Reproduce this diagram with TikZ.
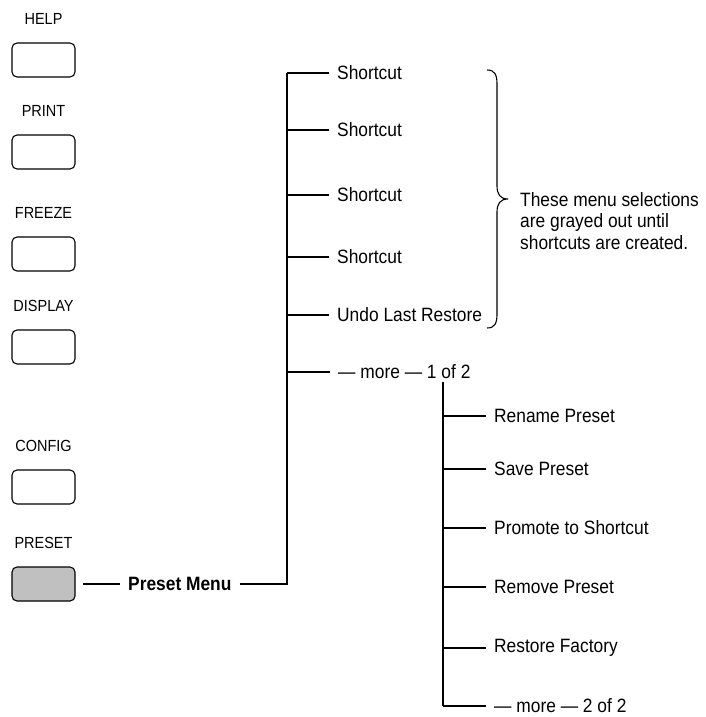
\documentclass[tikz,border=0pt]{standalone}
\usepackage{fontspec}
\setmainfont{Liberation Sans}[FakeStretch=0.9]
\definecolor{btngray}{RGB}{192,192,192}
\tikzset{
  btn/.style={draw, line width=1.1pt, rounded corners=5pt, minimum width=63pt, minimum height=34pt, inner sep=0pt},
  btnlabel/.style={font=\fontsize{16.1}{18}\selectfont, inner sep=0pt},
  item/.style={anchor=west, inner xsep=8pt, inner ysep=2pt, font=\fontsize{19.3}{21}\selectfont},
  bolditem/.style={item, font=\fontsize{19.3}{21}\selectfont\bfseries},
  link/.style={line width=1.2pt},
  bracestyle/.style={line width=1.1pt},
}
\begin{document}
\begin{tikzpicture}[x=1pt,y=-1pt]
\useasboundingbox (0,0) rectangle (705,717);
% buttons and labels
\node[btnlabel] (lhelp) at (43.5,19) {HELP};
\node[btn] (bhelp) at (43.5,60) {};
\node[btnlabel] (lprint) at (43.5,111) {PRINT};
\node[btn] (bprint) at (43.5,152) {};
\node[btnlabel] (lfreeze) at (43.5,213) {FREEZE};
\node[btn] (bfreeze) at (43.5,254) {};
\node[btnlabel] (ldisplay) at (43.5,306) {DISPLAY};
\node[btn] (bdisplay) at (43.5,347) {};
\node[btnlabel] (lconfig) at (43.5,446) {CONFIG};
\node[btn] (bconfig) at (43.5,487) {};
\node[btnlabel] (lpreset) at (43.5,543) {PRESET};
\node[btn, fill=btngray] (bpreset) at (43.5,584) {};
% preset menu
\node[bolditem] (pm) at (120,584) {Preset Menu};
\coordinate (pmstart) at (83,584);
\draw[link] (pmstart) -- (pm.west);
% main tree
\coordinate (v1) at (287,73);
\coordinate (v2) at (287,130);
\coordinate (v3) at (287,195);
\coordinate (v4) at (287,257);
\coordinate (v5) at (287,315);
\coordinate (v6) at (287,372);
\coordinate (v7) at (287,584);
\draw[link] (pm.east) -- (v7) -- (v1);
\node[item] (s1) at (329,73) {Shortcut};
\node[item] (s2) at (329,130) {Shortcut};
\node[item] (s3) at (329,195) {Shortcut};
\node[item] (s4) at (329,257) {Shortcut};
\node[item] (s5) at (329,315) {Undo Last Restore};
\node[item] (m1) at (330,372) {— more — 1 of 2};
\foreach \a/\b in {v1/s1,v2/s2,v3/s3,v4/s4,v5/s5,v6/m1} \draw[link] (\a) -- (\b.west);
% brace
\coordinate (btop) at (487,70);
\coordinate (bbot) at (487,328);
\coordinate (btip) at (508,199);
\draw[bracestyle] (btop) .. controls (495,70) and (497,75) .. (497,84) -- (497,186)
  .. controls (497,194) and (500,199) .. (btip)
  .. controls (500,199) and (497,204) .. (497,212) -- (497,314)
  .. controls (497,323) and (495,328) .. (bbot);
\node[anchor=west, align=left, inner xsep=8pt, font=\fontsize{19.3}{21.5}\selectfont] (note) at (512,221)
  {These menu selections\\are grayed out until\\shortcuts are created.};
% second tree
\coordinate (w0) at (443,382);
\coordinate (w1) at (443,416);
\coordinate (w2) at (443,469);
\coordinate (w3) at (443,528);
\coordinate (w4) at (443,587);
\coordinate (w5) at (443,648);
\coordinate (w6) at (443,706);
\draw[link] (w0) -- (w6);
\node[item] (r1) at (486,416) {Rename Preset};
\node[item] (r2) at (486,469) {Save Preset};
\node[item] (r3) at (486,528) {Promote to Shortcut};
\node[item] (r4) at (486,587) {Remove Preset};
\node[item] (r5) at (486,648) {Restore Factory};
\node[item] (m2) at (486,706) {— more — 2 of 2};
\foreach \a/\b in {w1/r1,w2/r2,w3/r3,w4/r4,w5/r5,w6/m2} \draw[link] (\a) -- (\b.west);
\end{tikzpicture}
\end{document}
